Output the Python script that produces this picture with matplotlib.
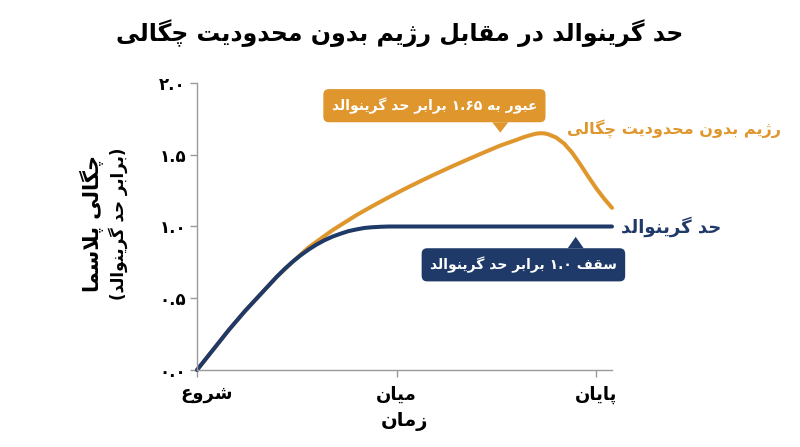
import re
import matplotlib
matplotlib.use("Agg")
import matplotlib.pyplot as plt
import matplotlib.transforms as mtransforms
from matplotlib.patches import Polygon

# --- data --------------------------------------------------------------
greenwald_x = [0.00, 0.02, 0.04, 0.06, 0.08, 0.10, 0.12, 0.14, 0.16, 0.18,
               0.20, 0.22, 0.24, 0.26, 0.28, 0.30, 0.32, 0.34, 0.36, 0.38,
               0.40, 0.42, 0.44, 0.46, 0.48, 0.50, 1.04]
greenwald_y = [0.00, 0.07, 0.14, 0.21, 0.28, 0.345, 0.41, 0.47, 0.53, 0.59,
               0.65, 0.705, 0.755, 0.80, 0.84, 0.875, 0.905, 0.93, 0.95, 0.968,
               0.98, 0.99, 0.995, 0.998, 1.00, 1.00, 1.00]

unlimited_x = [0.00, 0.04, 0.08, 0.12, 0.16, 0.20, 0.24, 0.26, 0.28, 0.30,
               0.32, 0.34, 0.36, 0.38, 0.40, 0.44, 0.48, 0.52, 0.56, 0.60,
               0.64, 0.68, 0.72, 0.76, 0.80, 0.82, 0.84, 0.85, 0.86, 0.87,
               0.88, 0.90, 0.92, 0.94, 0.96, 0.98, 1.00, 1.02, 1.04]
unlimited_y = [0.00, 0.14, 0.28, 0.41, 0.53, 0.65, 0.755, 0.805, 0.855, 0.895,
               0.935, 0.975, 1.01, 1.045, 1.08, 1.143, 1.203, 1.261, 1.316, 1.369,
               1.42, 1.469, 1.517, 1.564, 1.603, 1.624, 1.640, 1.647, 1.650, 1.649,
               1.643, 1.620, 1.578, 1.515, 1.435, 1.35, 1.268, 1.195, 1.13]

x_ticks = [0.0, 0.5, 1.0]
x_tick_labels = ["شروع", "میان", "پایان"]
y_ticks = [0.0, 0.5, 1.0, 1.5, 2.0]
y_tick_labels = ["۰.۰", "۰.۵", "۱.۰", "۱.۵", "۲.۰"]

title = "حد گرینوالد در مقابل رژیم بدون محدودیت چگالی"
x_label = "زمان"
y_label_main = "چگالی پلاسما"
y_label_sub = "(برابر حد گرینوالد)"
label_unlimited = "رژیم بدون محدودیت چگالی"
label_greenwald = "حد گرینوالد"
note_peak = "عبور به ۱.۶۵ برابر حد گرینوالد"
note_cap = "سقف ۱.۰ برابر حد گرینوالد"

ORANGE = "#DF962D"
NAVY = "#1F3A68"
GREY = "#9A9A9A"

# --- minimal Persian shaping (matplotlib does no Arabic-script layout) ---
# letter: (isolated, final, initial, medial); right-joining letters have no initial/medial
FORMS = {
    "ا": ("\uFE8D", "\uFE8E", None, None),
    "آ": ("\uFE81", "\uFE82", None, None),
    "د": ("\uFEA9", "\uFEAA", None, None),
    "ذ": ("\uFEAB", "\uFEAC", None, None),
    "ر": ("\uFEAD", "\uFEAE", None, None),
    "ز": ("\uFEAF", "\uFEB0", None, None),
    "ژ": ("\uFB8A", "\uFB8B", None, None),
    "و": ("\uFEED", "\uFEEE", None, None),
    "ب": ("\uFE8F", "\uFE90", "\uFE91", "\uFE92"),
    "پ": ("\uFB56", "\uFB57", "\uFB58", "\uFB59"),
    "ت": ("\uFE95", "\uFE96", "\uFE97", "\uFE98"),
    "ج": ("\uFE9D", "\uFE9E", "\uFE9F", "\uFEA0"),
    "چ": ("\uFB7A", "\uFB7B", "\uFB7C", "\uFB7D"),
    "ح": ("\uFEA1", "\uFEA2", "\uFEA3", "\uFEA4"),
    "خ": ("\uFEA5", "\uFEA6", "\uFEA7", "\uFEA8"),
    "س": ("\uFEB1", "\uFEB2", "\uFEB3", "\uFEB4"),
    "ش": ("\uFEB5", "\uFEB6", "\uFEB7", "\uFEB8"),
    "ع": ("\uFEC9", "\uFECA", "\uFECB", "\uFECC"),
    "ف": ("\uFED1", "\uFED2", "\uFED3", "\uFED4"),
    "ق": ("\uFED5", "\uFED6", "\uFED7", "\uFED8"),
    "ک": ("\uFB8E", "\uFB8F", "\uFB90", "\uFB91"),
    "گ": ("\uFB92", "\uFB93", "\uFB94", "\uFB95"),
    "ل": ("\uFEDD", "\uFEDE", "\uFEDF", "\uFEE0"),
    "م": ("\uFEE1", "\uFEE2", "\uFEE3", "\uFEE4"),
    "ن": ("\uFEE5", "\uFEE6", "\uFEE7", "\uFEE8"),
    "ه": ("\uFEE9", "\uFEEA", "\uFEEB", "\uFEEC"),
    "ی": ("\uFBFC", "\uFBFD", "\uFBFE", "\uFBFF"),
}
MIRROR = {"(": ")", ")": "("}


def joins_forward(ch):
    return ch in FORMS and FORMS[ch][2] is not None


def fa(text):
    out = []
    i = 0
    while i < len(text):
        ch = text[i]
        prev = text[i - 1] if i > 0 else ""
        nxt = text[i + 1] if i + 1 < len(text) else ""
        if ch not in FORMS:
            out.append(ch)
            i += 1
            continue
        linked_prev = joins_forward(prev)
        if ch == "ل" and nxt == "ا":
            out.append("\uFEFC" if linked_prev else "\uFEFB")
            i += 2
            continue
        linked_next = joins_forward(ch) and nxt in FORMS
        iso, fin, ini, med = FORMS[ch]
        if linked_prev and linked_next:
            out.append(med)
        elif linked_prev:
            out.append(fin)
        elif linked_next:
            out.append(ini)
        else:
            out.append(iso)
        i += 1
    shaped = "".join(out)
    # visual order: reverse, but keep digit runs left-to-right
    runs = re.findall(r"[0-9\u06F0-\u06F9.]+|.", shaped)
    return "".join(MIRROR.get(r, r) for r in reversed(runs))


plt.rcParams["font.family"] = ["DejaVu Sans"]

fig = plt.figure(figsize=(8.0, 4.47), dpi=100)
ax = fig.add_axes([197 / 800, 1 - 370 / 447, 415 / 800, 287 / 447])

ax.plot(unlimited_x, unlimited_y, color=ORANGE, lw=2.9,
        solid_capstyle="round", solid_joinstyle="round", clip_on=False)
ax.plot(greenwald_x, greenwald_y, color=NAVY, lw=2.9,
        solid_capstyle="round", solid_joinstyle="round", clip_on=False)

ax.set_xlim(0, 1.04)
ax.set_ylim(0, 2.0)
for side in ["top", "right"]:
    ax.spines[side].set_visible(False)
for side in ["left", "bottom"]:
    ax.spines[side].set_color(GREY)
    ax.spines[side].set_linewidth(1.0)

ax.set_xticks(x_ticks)
ax.set_xticklabels([fa(t) for t in x_tick_labels], fontsize=13, fontweight="bold")
ax.set_yticks(y_ticks)
ax.set_yticklabels([fa(t) for t in y_tick_labels], fontsize=12, fontweight="bold")
ax.tick_params(axis="both", colors=GREY, length=5, width=1.0)
ax.tick_params(axis="x", pad=6, labelcolor="black")
ax.tick_params(axis="y", pad=3, labelcolor="black")
first = ax.get_xticklabels()[0]
first.set_transform(first.get_transform()
                    + mtransforms.ScaledTranslation(0.1, 0, fig.dpi_scale_trans))

ax.set_xlabel(fa(x_label), fontsize=14, fontweight="bold", labelpad=6)

fig.text(92 / 800, 0.50, fa(y_label_main), rotation=90, fontsize=15,
         fontweight="bold", ha="center", va="center")
fig.text(118 / 800, 0.50, fa(y_label_sub), rotation=90, fontsize=12,
         fontweight="bold", ha="center", va="center")

fig.text(0.5, 1 - 33 / 447, fa(title), fontsize=17, fontweight="bold",
         ha="center", va="center")

# series labels at the right end
ax.text(1.463, 1.68, fa(label_unlimited), color=ORANGE, fontsize=11.5,
        fontweight="bold", ha="right", va="center", clip_on=False)
ax.text(1.062, 1.0, fa(label_greenwald), color=NAVY, fontsize=13,
        fontweight="bold", ha="left", va="center", clip_on=False)


def callout(text, center, tip, color):
    t = ax.text(center[0], center[1], fa(text), color="white", fontsize=10,
                fontweight="bold", ha="center", va="center",
                bbox=dict(boxstyle="round,pad=0.6,rounding_size=0.4",
                          fc=color, ec="none"))
    fig.canvas.draw()
    bb = t.get_bbox_patch().get_window_extent()
    tx, ty = ax.transData.transform(tip)
    base_y = bb.y0 if ty < bb.y0 else bb.y1
    half = 8
    verts = [(tx - half, base_y), (tx + half, base_y), (tx, ty)]
    verts = ax.transData.inverted().transform(verts)
    ax.add_patch(Polygon(verts, closed=True, fc=color, ec="none", clip_on=False))


callout(note_peak, (0.595, 1.842), (0.76, 1.654), ORANGE)
callout(note_cap, (0.818, 0.733), (0.949, 0.928), NAVY)

fig.savefig("out.png", dpi=100, facecolor="white")
